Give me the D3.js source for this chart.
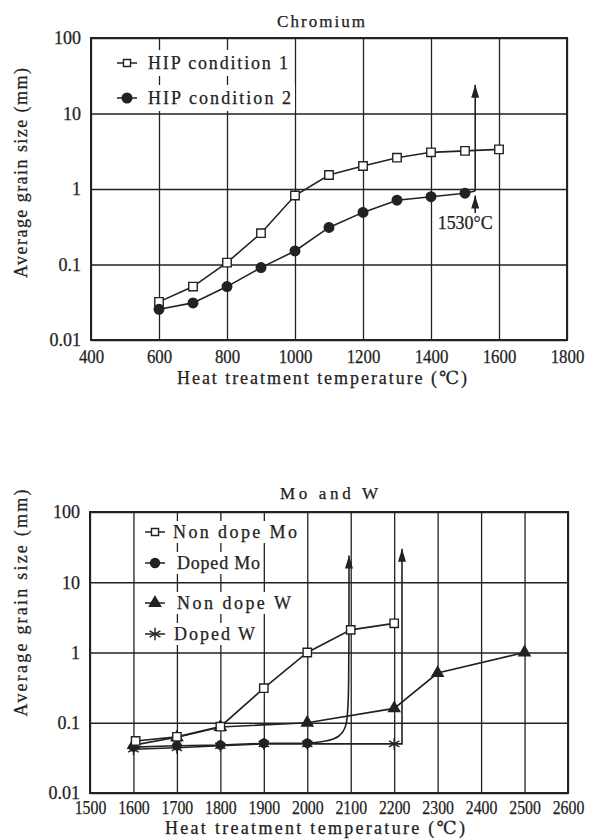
<!DOCTYPE html>
<html>
<head>
<meta charset="utf-8">
<script src="https://d3js.org/d3.v7.min.js"></script>
<style>
  body { margin: 0; background: #fff; }
  text { font-family: "Liberation Serif", "DejaVu Serif", serif; fill: #222; stroke: #222; stroke-width: 0.25px; }
</style>
</head>
<body>
<script>
// ---- Chromium panel data ----
var crTicksX = [400, 600, 800, 1000, 1200, 1400, 1600, 1800];
var crHip1Temp = [600, 700, 800, 900, 1000, 1100, 1200, 1300, 1400, 1500, 1600];
var crHip1 = [0.032, 0.051, 0.106, 0.26, 0.82, 1.53, 2.02, 2.6, 3.06, 3.2, 3.35];
var crHip2Temp = [600, 700, 800, 900, 1000, 1100, 1200, 1300, 1400, 1500, 1530];
var crHip2 = [0.0255, 0.031, 0.051, 0.091, 0.151, 0.31, 0.49, 0.71, 0.79, 0.88, 0.94];
var crArrow = [[1530, 0.94], [1530, 24]];
var crArrowSmall = [[1530, 0.48], [1530, 0.82]];
var crLegend = ["HIP condition 1", "HIP condition 2"];

// ---- Mo and W panel data ----
var mwTicksX = [1500, 1600, 1700, 1800, 1900, 2000, 2100, 2200, 2300, 2400, 2500, 2600];
var moNonTemp = [1605, 1700, 1800, 1900, 2000, 2100, 2200];
var moNon = [0.055, 0.063, 0.088, 0.31, 1.0, 2.1, 2.6];
var moDopedTemp = [1600, 1700, 1800, 1900, 2000];
var moDoped = [0.045, 0.047, 0.048, 0.051, 0.051];
var moDopedArrow = [[2000, 0.051], [2045, 0.054], [2075, 0.063], [2091, 0.087], [2096, 0.2], [2096, 24]];
var wNonTemp = [1600, 1700, 1800, 2000, 2200, 2300, 2500];
var wNon = [0.048, 0.062, 0.087, 0.10, 0.16, 0.51, 1.0];
var wDopedTemp = [1600, 1700, 1800, 1900, 2000, 2200];
var wDoped = [0.042, 0.044, 0.047, 0.05, 0.05, 0.05];
var wDopedArrow = [[2200, 0.05], [2218, 0.05], [2218, 30]];
var mwLegend = ["Non dope Mo", "Doped Mo", "Non dope W", "Doped W"];

var ticksY = [0.01, 0.1, 1, 10, 100];
var ticksYLabel = ["0.01", "0.1", "1", "10", "100"];

var ink = "#222";
var svg = d3.select("body").append("svg").attr("width", 595).attr("height", 840);

svg.append("defs").append("marker")
  .attr("id", "arr").attr("viewBox", "0 0 10 10")
  .attr("preserveAspectRatio", "none")
  .attr("refX", 10).attr("refY", 5)
  .attr("markerWidth", 13).attr("markerHeight", 8)
  .attr("markerUnits", "userSpaceOnUse")
  .attr("orient", "auto")
  .append("path").attr("d", "M0,0 L10,5 L0,10 Z").attr("fill", ink);

function zipXY(xs, ys) { return xs.map(function(v, i) { return [v, ys[i]]; }); }

function panel(p) {
  var x = d3.scaleLinear().domain(p.xDomain).range(p.xRange);
  var y = d3.scaleLog().domain([0.01, 100]).range(p.yRange);
  var g = svg.append("g");
  var top = p.yRange[1], bottom = p.yRange[0];
  var left = p.xRange[0], right = p.xRange[1];

  // grid
  g.append("g").attr("transform", "translate(0," + bottom + ")")
    .call(d3.axisBottom(x).tickValues(p.ticksX).tickSize(-(bottom - top)).tickFormat(""))
    .call(function(s) { s.select(".domain").remove(); s.selectAll("line").attr("stroke", ink).attr("stroke-width", 1.3); });
  g.append("g").attr("transform", "translate(" + left + ",0)")
    .call(d3.axisLeft(y).tickValues(ticksY).tickSize(-(right - left)).tickFormat(""))
    .call(function(s) { s.select(".domain").remove(); s.selectAll("line").attr("stroke", ink).attr("stroke-width", 1.3); });

  // legend row backgrounds (grid shows between rows)
  p.legendRows.forEach(function(r) {
    g.append("rect").attr("x", r.x0).attr("y", r.y - p.rowHalf)
      .attr("width", r.x1 - r.x0).attr("height", p.rowHalf * 2).attr("fill", "#fff");
  });

  // frame
  g.append("rect").attr("x", left).attr("y", top).attr("width", right - left).attr("height", bottom - top)
    .attr("fill", "none").attr("stroke", ink).attr("stroke-width", 2);

  // tick labels (squeezed a little, like the scanned type)
  g.append("g").attr("transform", "translate(0," + bottom + ")")
    .call(d3.axisBottom(x).tickValues(p.ticksX).tickSize(0).tickPadding(p.xPad).tickFormat(d3.format("d")))
    .call(function(s) {
      s.select(".domain").remove();
      s.selectAll("text").style("font-size", p.tickFont + "px").attr("fill", ink)
        .attr("textLength", function(d) { return String(d).length * p.digitW; })
        .attr("lengthAdjust", "spacingAndGlyphs");
    });
  g.append("g").attr("transform", "translate(" + (left - 10) + ",0)")
    .call(d3.axisLeft(y).tickValues(ticksY).tickSize(0).tickPadding(0).tickFormat(function(d, i) { return ticksYLabel[i]; }))
    .call(function(s) { s.select(".domain").remove(); s.selectAll("text").style("font-size", "18px").attr("fill", ink); });

  // titles
  g.append("text").attr("x", p.title.x).attr("y", p.title.y).attr("text-anchor", "middle")
    .attr("dominant-baseline", "central").style("font-size", "17px")
    .attr("textLength", p.title.len).attr("lengthAdjust", "spacing").text(p.title.text);
  g.append("text").attr("x", p.xLabel.x).attr("y", p.xLabel.y).attr("text-anchor", "middle")
    .attr("dominant-baseline", "central").style("font-size", "18px")
    .attr("textLength", p.xLabel.len).attr("lengthAdjust", "spacing").text("Heat treatment temperature (℃)");
  g.append("text").attr("transform", "translate(" + p.yLabel.x + "," + p.yLabel.y + ") rotate(-90)")
    .attr("text-anchor", "middle").attr("dominant-baseline", "central").style("font-size", "18px")
    .attr("textLength", p.yLabel.len).attr("lengthAdjust", "spacing").text("Average grain size (mm)");

  return { g: g, x: x, y: y };
}

function drawLine(pn, pts, extra) {
  var line = d3.line().x(function(d) { return pn.x(d[0]); }).y(function(d) { return pn.y(d[1]); });
  if (extra && extra.curve) line.curve(extra.curve);
  var path = pn.g.append("path").datum(pts).attr("d", line)
    .attr("fill", "none").attr("stroke", ink).attr("stroke-width", 1.6);
  if (extra && extra.arrow) path.attr("marker-end", "url(#arr)");
  return path;
}

function drawMarks(pn, pts, type, size, filled, stroked) {
  pn.g.append("g").selectAll("path").data(pts).enter().append("path")
    .attr("transform", function(d) { return "translate(" + pn.x(d[0]) + "," + pn.y(d[1]) + ")"; })
    .attr("d", d3.symbol().type(type).size(size))
    .attr("fill", stroked ? "none" : (filled ? ink : "#fff"))
    .attr("stroke", ink).attr("stroke-width", 1.4);
}

function legendItem(g, lx, ly, tx, len, label, type, size, filled, stroked) {
  g.append("line").attr("x1", lx - 10).attr("x2", lx + 10).attr("y1", ly).attr("y2", ly)
    .attr("stroke", ink).attr("stroke-width", 1.5);
  g.append("path").attr("transform", "translate(" + lx + "," + ly + ")")
    .attr("d", d3.symbol().type(type).size(size))
    .attr("fill", stroked ? "none" : (filled ? ink : "#fff"))
    .attr("stroke", ink).attr("stroke-width", 1.4);
  g.append("text").attr("x", tx).attr("y", ly).attr("dominant-baseline", "central")
    .style("font-size", "18px").attr("textLength", len).attr("lengthAdjust", "spacing").text(label);
}

// ---- Chromium ----
var cr = panel({
  xDomain: [400, 1800], xRange: [91, 567], yRange: [340, 38],
  ticksX: crTicksX, xPad: 10, tickFont: 18, digitW: 8.4,
  rowHalf: 13,
  legendRows: [{ x0: 112, x1: 292, y: 63 }, { x0: 112, x1: 295, y: 98 }],
  title: { x: 321, y: 21, len: 88, text: "Chromium" },
  xLabel: { x: 322, y: 378, len: 290 },
  yLabel: { x: 21, y: 173, len: 210 }
});
drawLine(cr, zipXY(crHip1Temp, crHip1));
drawLine(cr, zipXY(crHip2Temp, crHip2));
drawLine(cr, crArrow, { arrow: true });
drawLine(cr, crArrowSmall, { arrow: true });
drawMarks(cr, zipXY(crHip1Temp, crHip1), d3.symbolSquare, 72, false);
drawMarks(cr, zipXY(crHip2Temp.slice(0, -1), crHip2.slice(0, -1)), d3.symbolCircle, 72, true);
cr.g.append("text").attr("x", cr.x(1530) - 10).attr("y", 223).attr("text-anchor", "middle")
  .attr("dominant-baseline", "central").style("font-size", "18px")
  .attr("textLength", 55).attr("lengthAdjust", "spacingAndGlyphs").text("1530°C");
legendItem(cr.g, 127, 63, 148, 140, crLegend[0], d3.symbolSquare, 50, false);
legendItem(cr.g, 127, 98, 148, 143, crLegend[1], d3.symbolCircle, 72, true);

// ---- Mo and W ----
var mw = panel({
  xDomain: [1500, 2600], xRange: [90, 568], yRange: [793, 512],
  ticksX: mwTicksX, xPad: 8, tickFont: 19, digitW: 7.9,
  rowHalf: 11,
  legendRows: [{ x0: 142, x1: 300, y: 532 }, { x0: 142, x1: 262, y: 563 },
               { x0: 142, x1: 294, y: 603 }, { x0: 142, x1: 258, y: 634 }],
  title: { x: 329, y: 493, len: 98, text: "Mo and W" },
  xLabel: { x: 315, y: 828, len: 300 },
  yLabel: { x: 21, y: 603, len: 227 }
});
drawLine(mw, zipXY(wDopedTemp, wDoped));
drawLine(mw, wDopedArrow, { arrow: true });
drawLine(mw, zipXY(moDopedTemp, moDoped));
drawLine(mw, moDopedArrow, { arrow: true, curve: d3.curveBasis });
drawLine(mw, zipXY(wNonTemp, wNon));
drawLine(mw, zipXY(moNonTemp, moNon));
drawMarks(mw, zipXY(moDopedTemp, moDoped), d3.symbolCircle, 55, true);
drawMarks(mw, zipXY(wDopedTemp, wDoped), d3.symbolAsterisk, 100, false, true);
drawMarks(mw, zipXY(wNonTemp, wNon), d3.symbolTriangle, 55, true);
drawMarks(mw, zipXY(moNonTemp, moNon), d3.symbolSquare, 70, false);
legendItem(mw.g, 155, 532, 173, 124, mwLegend[0], d3.symbolSquare, 50, false);
legendItem(mw.g, 155, 563, 177, 83, mwLegend[1], d3.symbolCircle, 64, true);
legendItem(mw.g, 155, 603, 177, 114, mwLegend[2], d3.symbolTriangle, 55, true);
legendItem(mw.g, 155, 634, 174, 81, mwLegend[3], d3.symbolAsterisk, 110, false, true);
</script>
</body>
</html>
